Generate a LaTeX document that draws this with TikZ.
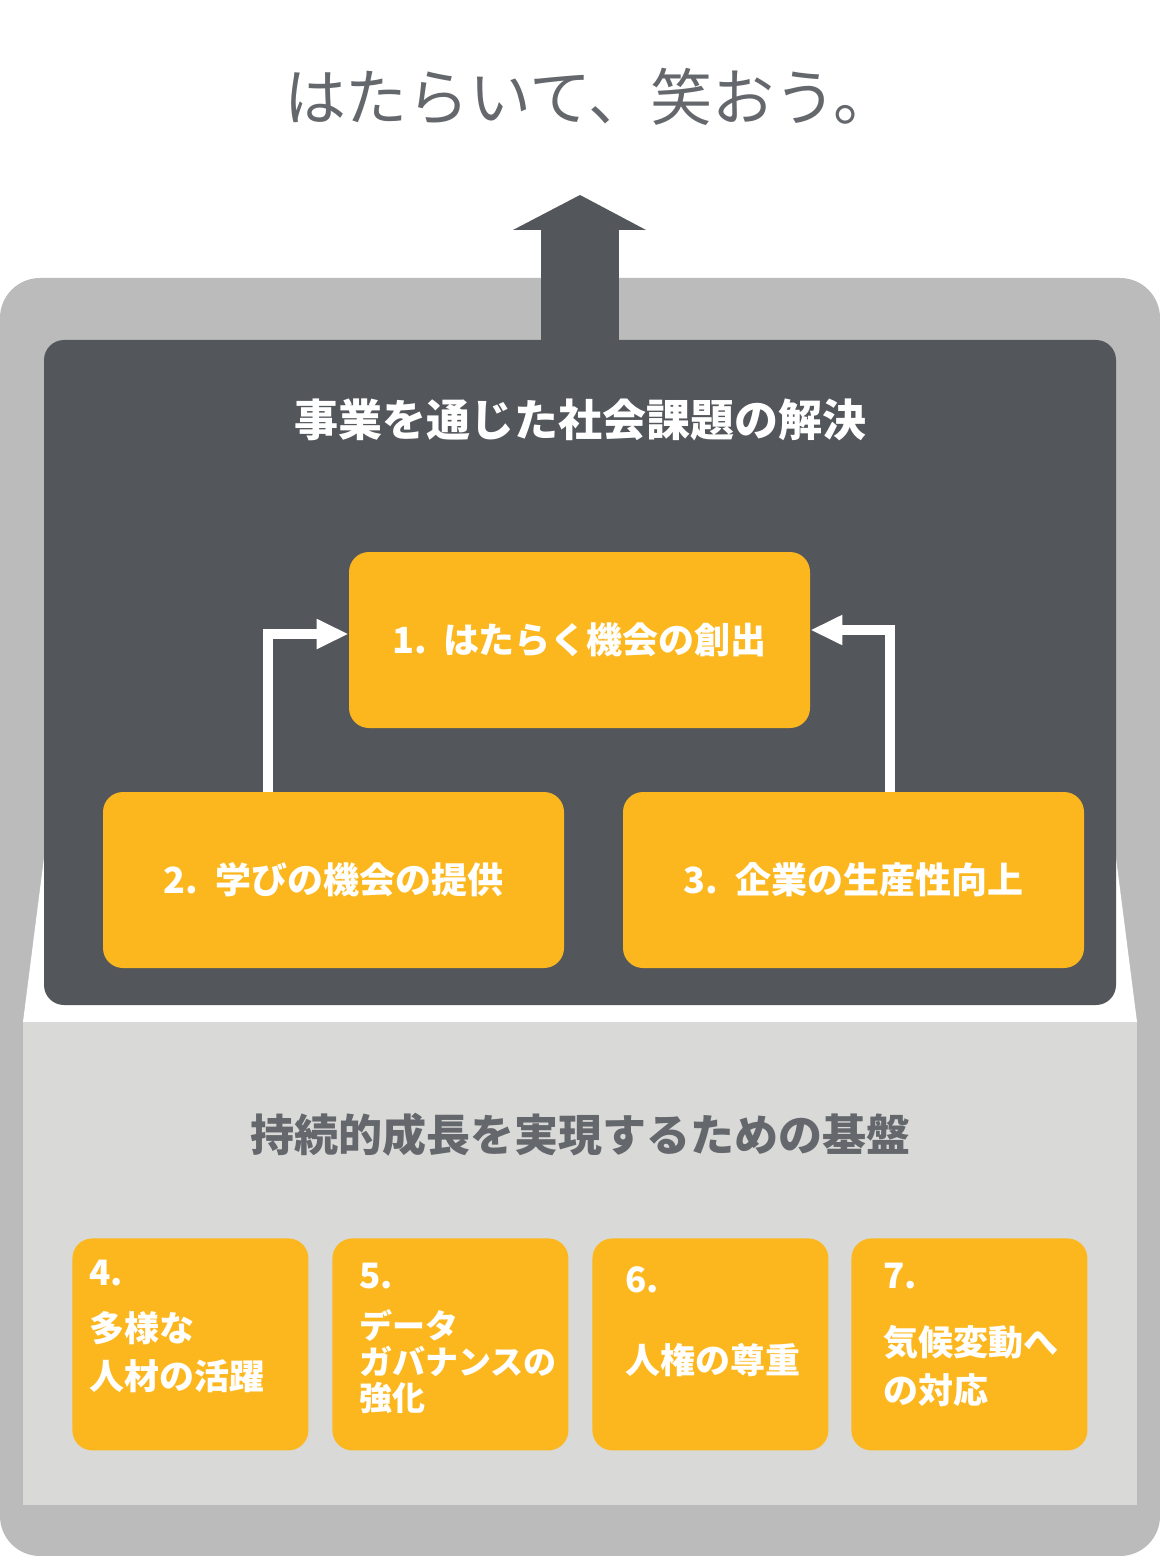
\documentclass[tikz,border=0pt]{standalone}
\usepackage{fontspec}
\setmainfont{Noto Sans CJK JP}
\definecolor{org}{HTML}{FDB71E}
\definecolor{drk}{HTML}{53565B}
\definecolor{gry}{HTML}{BBBBBB}
\definecolor{lgt}{HTML}{D9D9D8}
\usetikzlibrary{arrows.meta}
\begin{document}
\begin{tikzpicture}[x=0.5pt,y=-0.5pt,
 box/.style={fill=org,rounded corners=10pt},
 lbl/.style={text=white,font=\bfseries\fontsize{18}{20}\selectfont},
 slbl/.style={text=white,font=\bfseries\fontsize{17.5}{24}\selectfont,align=left,anchor=north west},
 con/.style={draw=white,line width=5pt,-{Triangle[length=16pt,width=14pt]}}]
\useasboundingbox (0,0) rectangle (1160,1556);
\fill[white] (0,0) rectangle (1160,1556);
\node[text=drk!90,font=\fontsize{31}{36}\selectfont] (title) at (590,97) {はたらいて、笑おう。};
\fill[gry,rounded corners=20pt] (0,278) rectangle (1160,1556);
\fill[white] (45,850) -- (1115,850) -- (1137,1022) -- (23,1022) -- cycle;
\fill[lgt] (23,1022) rectangle (1137,1505);
\fill[drk] (541,225) rectangle (619,345);
\fill[drk] (513,230) -- (580,195) -- (646,230) -- cycle;
\fill[drk,rounded corners=10pt] (44,340) rectangle (1116,1005);
\node[text=white,font=\bfseries\fontsize{22}{24}\selectfont] (h1) at (580,420) {事業を通じた社会課題の解決};
\node[box,minimum width=230.5pt,minimum height=88pt] (b1) at (579.5,640) {};
\node[lbl] at (b1) {1.\ \ はたらく機会の創出};
\node[box,minimum width=230.5pt,minimum height=88pt] (b2) at (333.5,880) {};
\node[lbl] at (b2) {2.\ \ 学びの機会の提供};
\node[box,minimum width=230.5pt,minimum height=88pt] (b3) at (853.5,880) {};
\node[lbl] at (b3) {3.\ \ 企業の生産性向上};
\coordinate (c2) at (268,634);
\coordinate (c3) at (890,630);
\draw[con] (268,792) -- (c2) -- (b1.west|-c2);
\draw[con] (890,792) -- (c3) -- (b1.east|-c3);
\node[text=drk!90,font=\bfseries\fontsize{22}{24}\selectfont] (h2) at (580,1135) {持続的成長を実現するための基盤};
\foreach \n/\x in {4/72,5/332,6/592,7/851}{
 \node[box,minimum width=118pt,minimum height=106pt,anchor=north west] (s\n) at (\x,1238) {};}
\node[slbl] at (82,1253) {4.};
\node[slbl] at (82,1304) {多様な\\人材の活躍};
\node[slbl] at (352,1256) {5.};
\node[slbl,font=\bfseries\fontsize{16.5}{18}\selectfont] at (352,1302) {データ\\ガバナンスの\\強化};
\node[slbl] at (618,1260) {6.};
\node[slbl] at (618,1336) {人権の尊重};
\node[slbl] at (876,1256) {7.};
\node[slbl] at (876,1318) {気候変動へ\\の対応};
\end{tikzpicture}
\end{document}
